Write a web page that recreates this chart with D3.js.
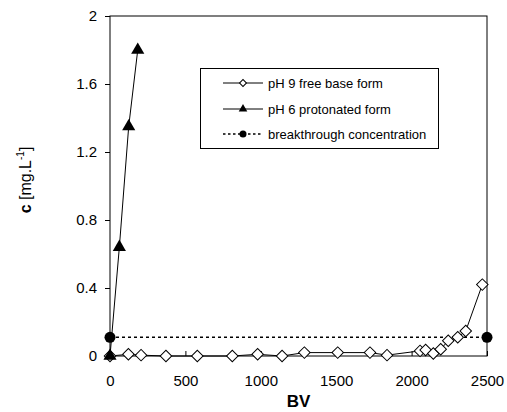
<!DOCTYPE html>
<html>
<head>
<meta charset="utf-8">
<script src="https://cdn.jsdelivr.net/npm/d3@7"></script>
<style>
  body { margin: 0; background: #fff; }
  text { font-family: "Liberation Sans", Arial, sans-serif; }
</style>
</head>
<body>
<script>
// pH 9 free base form (diamonds)
const bvBase = [0, 122, 206, 371, 579, 811, 979, 1141, 1289, 1510, 1724, 1837, 2056, 2093, 2144, 2193, 2243, 2306, 2359, 2469];
const cBase  = [0, 0.01, 0.005, 0, 0, 0, 0.01, 0, 0.02, 0.02, 0.02, 0.005, 0.03, 0.035, 0.015, 0.04, 0.09, 0.11, 0.147, 0.42];
// pH 6 protonated form (triangles)
const bvProt = [0, 62, 124, 184];
const cProt  = [0, 0.64, 1.35, 1.8];
// breakthrough concentration
const bvBreak = [0, 2500];
const cBreak  = [0.11, 0.11];

const xTicks = [0, 500, 1000, 1500, 2000, 2500];
const yTicks = [0, 0.4, 0.8, 1.2, 1.6, 2];
const legendLabels = ["pH 9 free base form", "pH 6 protonated form", "breakthrough concentration"];

const width = 507, height = 412;

const svg = d3.select("body").append("svg")
    .attr("width", width)
    .attr("height", height);

const x = d3.scaleLinear().domain([0, 2500]).range([110, 487]);
const y = d3.scaleLinear().domain([0, 2]).range([356, 16]);

// plot frame
svg.append("rect")
    .attr("x", x(0)).attr("y", y(2))
    .attr("width", x(2500) - x(0)).attr("height", y(0) - y(2))
    .attr("fill", "none").attr("stroke", "#000").attr("stroke-width", 1);

// x axis, ticks pointing inward
const xAxis = svg.append("g")
    .attr("transform", `translate(0,${y(0)})`)
    .call(d3.axisBottom(x).tickValues(xTicks).tickSize(-5).tickPadding(19).tickFormat(d3.format("d")));
xAxis.select(".domain").remove();
xAxis.selectAll("text").style("font-size", "15px");

// y axis, ticks pointing outward
const yAxis = svg.append("g")
    .attr("transform", `translate(${x(0)},0)`)
    .call(d3.axisLeft(y).tickValues(yTicks).tickSize(5).tickPadding(8).tickFormat(d => d === 0 ? "0" : d3.format("")(d)));
yAxis.select(".domain").remove();
yAxis.selectAll("text").style("font-size", "15px");

// axis titles
svg.append("text")
    .attr("x", (x(0) + x(2500)) / 2).attr("y", 407)
    .attr("text-anchor", "middle").style("font-size", "17px").attr("font-weight", "bold")
    .text("BV");

const yt = svg.append("text")
    .attr("transform", `translate(31,${(y(0) + y(2)) / 2 - 6}) rotate(-90)`)
    .attr("text-anchor", "middle").style("font-size", "16px");
yt.append("tspan").attr("font-weight", "bold").text("c");
yt.append("tspan").text(" [mg.L");
yt.append("tspan").style("font-size", "10px").attr("dy", -7).text("-1");
yt.append("tspan").attr("dy", 7).text("]");

const line = d3.line().x(d => x(d[0])).y(d => y(d[1]));
const base = d3.zip(bvBase, cBase);
const prot = d3.zip(bvProt, cProt);
const brk = d3.zip(bvBreak, cBreak);

const diamond = d3.symbol().type(d3.symbolSquare).size(66)();
const tri = d3.symbol().type(d3.symbolTriangle).size(75)();

// breakthrough
svg.append("path").attr("d", line(brk))
    .attr("fill", "none").attr("stroke", "#000").attr("stroke-width", 1.5).attr("stroke-dasharray", "3,3");
svg.selectAll(".brk").data(brk).enter().append("circle")
    .attr("cx", d => x(d[0])).attr("cy", d => y(d[1])).attr("r", 5.5).attr("fill", "#000");

// pH 9
svg.append("path").attr("d", line(base))
    .attr("fill", "none").attr("stroke", "#000").attr("stroke-width", 1);
svg.selectAll(".base").data(base).enter().append("path")
    .attr("d", diamond)
    .attr("transform", d => `translate(${x(d[0])},${y(d[1])}) rotate(45)`)
    .attr("fill", "#fff").attr("stroke", "#000").attr("stroke-width", 1);

// pH 6
svg.append("path").attr("d", line(prot))
    .attr("fill", "none").attr("stroke", "#000").attr("stroke-width", 1);
svg.selectAll(".prot").data(prot).enter().append("path")
    .attr("d", tri)
    .attr("transform", d => `translate(${x(d[0])},${y(d[1])})`)
    .attr("fill", "#000");

// legend
const lg = svg.append("g");
lg.append("rect").attr("x", 200.5).attr("y", 68.5).attr("width", 238).attr("height", 80)
    .attr("fill", "#fff").attr("stroke", "#000").attr("stroke-width", 1);
const rows = [83, 109, 134];
legendLabels.forEach((lab, i) => {
  const g = lg.append("g").attr("transform", `translate(0,${rows[i]})`);
  const ln = g.append("line").attr("x1", 223).attr("x2", 263).attr("y1", 0).attr("y2", 0)
      .attr("stroke", "#000").attr("stroke-width", i === 2 ? 1.5 : 1);
  if (i === 0) {
    g.append("path").attr("d", d3.symbol().type(d3.symbolSquare).size(24)())
        .attr("transform", "translate(243,0) rotate(45)")
        .attr("fill", "#fff").attr("stroke", "#000");
  } else if (i === 1) {
    g.append("path").attr("d", d3.symbol().type(d3.symbolTriangle).size(32)())
        .attr("transform", "translate(243,0)").attr("fill", "#000");
  } else {
    ln.attr("stroke-dasharray", "2.5,2.5");
    g.append("circle").attr("cx", 243).attr("cy", 0).attr("r", 3.5).attr("fill", "#000");
  }
  g.append("text").attr("x", 268).attr("y", 4.5).style("font-size", "13px").text(lab);
});
</script>
</body>
</html>
